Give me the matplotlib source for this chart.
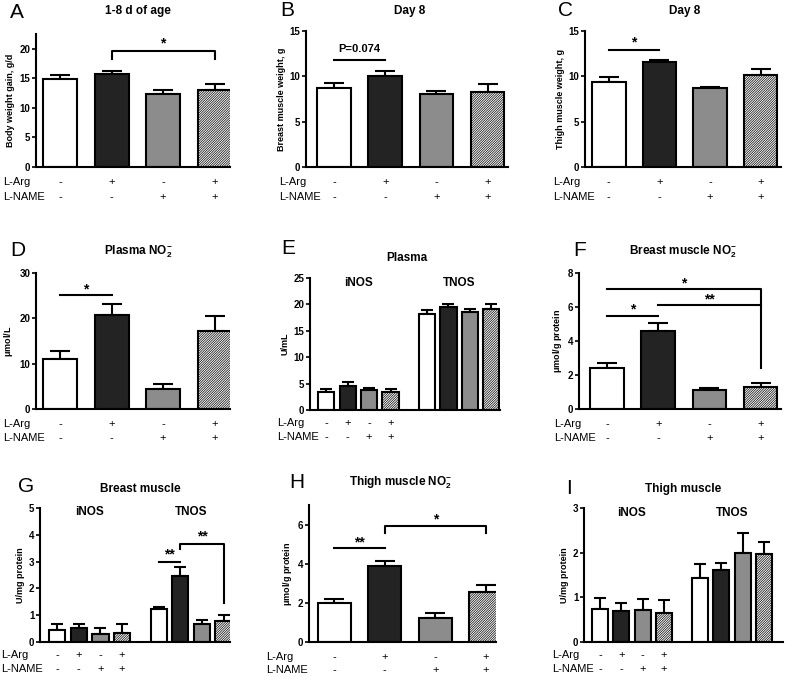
import matplotlib
matplotlib.use('Agg')
import matplotlib.pyplot as plt
import numpy as np

plt.rcParams['font.family'] = ['Liberation Sans', 'DejaVu Sans']
plt.rcParams['mathtext.fontset'] = 'custom'
plt.rcParams['mathtext.rm'] = 'Liberation Sans'
plt.rcParams['mathtext.bf'] = 'Liberation Sans:bold'
plt.rcParams['hatch.linewidth'] = 0.5

# treatment rows
L_ARG = ['-', '+', '-', '+']
L_NAME = ['-', '-', '+', '+']

# A: body weight gain 1-8 d
A_mean = [14.9, 15.7, 12.3, 13.1]
A_sem = [0.6, 0.6, 0.7, 1.0]
# B: breast muscle weight day 8
B_mean = [8.7, 10.0, 8.0, 8.3]
B_sem = [0.6, 0.6, 0.35, 0.8]
# C: thigh muscle weight day 8
C_mean = [9.4, 11.6, 8.7, 10.1]
C_sem = [0.5, 0.25, 0.15, 0.7]
# D: plasma NO2-
D_mean = [11.0, 20.8, 4.35, 17.1]
D_sem = [1.9, 2.3, 1.1, 3.5]
# E: plasma iNOS / TNOS
E_inos = [3.5, 4.5, 3.77, 3.5]
E_inos_sem = [0.46, 0.8, 0.38, 0.46]
E_tnos = [18.1, 19.5, 18.5, 19.2]
E_tnos_sem = [0.8, 0.6, 0.7, 0.8]
# F: breast muscle NO2-
F_mean = [2.44, 4.6, 1.14, 1.3]
F_sem = [0.25, 0.45, 0.12, 0.23]
# G: breast muscle iNOS / TNOS
G_inos = [0.45, 0.52, 0.31, 0.34]
G_inos_sem = [0.21, 0.15, 0.2, 0.33]
G_tnos = [1.22, 2.47, 0.66, 0.8]
G_tnos_sem = [0.1, 0.32, 0.16, 0.2]
# H: thigh muscle NO2-
H_mean = [1.97, 3.86, 1.23, 2.56]
H_sem = [0.21, 0.26, 0.26, 0.36]
# I: thigh muscle iNOS / TNOS
I_inos = [0.74, 0.70, 0.71, 0.64]
I_inos_sem = [0.24, 0.18, 0.26, 0.31]
I_tnos = [1.44, 1.62, 2.0, 1.96]
I_tnos_sem = [0.3, 0.15, 0.44, 0.28]

FILLS = ['white', '#232323', '#8c8c8c', 'white']
HATCHES = [None, None, None, '//////////////']

W, H = 789, 677
fig = plt.figure(figsize=(W / 100, H / 100), dpi=100)

TICK_FS = 7
YLAB_FS = 6.5
TITLE_FS = 8.5
TREAT_FS = 8


def make_ax(l, r, t, b):
    ax = fig.add_axes([l / W, 1 - b / H, (r - l) / W, (b - t) / H])
    for s in ['top', 'right']:
        ax.spines[s].set_visible(False)
    for s in ['left', 'bottom']:
        ax.spines[s].set_linewidth(1.5)
    ax.tick_params(axis='y', direction='out', length=3, width=1.2, pad=1,
                   labelsize=TICK_FS)
    ax.tick_params(axis='x', length=0)
    ax.set_xticks([])
    return ax


def finish_ax(ax, ylabel):
    ax.set_ylabel(ylabel, fontsize=YLAB_FS, fontweight='bold', labelpad=3)
    for lab in ax.get_yticklabels():
        lab.set_fontweight('bold')


def draw_bars(ax, xs, means, sems, width, cap):
    for x, m, s, c, h in zip(xs, means, sems, FILLS, HATCHES):
        ax.bar(x, m, width, color=c, edgecolor='black', linewidth=1.5,
               hatch=h, zorder=2)
        ax.errorbar(x, m, yerr=[[0], [s]], fmt='none', ecolor='black',
                    elinewidth=1.5, capsize=cap, capthick=1.5, zorder=1)


def treatments(ax, xs, label_x, d1, d2):
    for x, a, n in zip(xs, L_ARG, L_NAME):
        ax.annotate(a, xy=(x, 0), xycoords=('data', 'axes fraction'),
                    xytext=(0, -d1 * 0.72), textcoords='offset points',
                    ha='center', va='center', fontsize=TREAT_FS)
        ax.annotate(n, xy=(x, 0), xycoords=('data', 'axes fraction'),
                    xytext=(0, -d2 * 0.72), textcoords='offset points',
                    ha='center', va='center', fontsize=TREAT_FS)
    ax.annotate('L-Arg', xy=(label_x / W, 0), xycoords=('figure fraction', 'axes fraction'),
                xytext=(0, -d1 * 0.72), textcoords='offset points',
                ha='left', va='center', fontsize=TREAT_FS)
    ax.annotate('L-NAME', xy=(label_x / W, 0), xycoords=('figure fraction', 'axes fraction'),
                xytext=(0, -d2 * 0.72), textcoords='offset points',
                ha='left', va='center', fontsize=TREAT_FS)


def title(text, x, y, letter, lx, ly):
    fig.text(x / W, 1 - y / H, text, ha='center', va='center',
             fontsize=TITLE_FS, fontweight='bold')
    fig.text(lx / W, 1 - ly / H, letter, ha='left', va='center', fontsize=15)


def line(ax, xs, ys, text=None, tx=None, ty=None, fs=10):
    ax.plot(xs, ys, color='black', lw=1.5, clip_on=False, zorder=3)
    if text:
        ax.text(tx, ty, text, ha='center', va='center', fontsize=fs,
                fontweight='bold')


x4 = np.arange(4)
x8i = np.arange(4)
x8t = np.arange(4) + 4.7
x8 = np.concatenate([x8i, x8t])

# ---------- A ----------
ax = make_ax(36, 230, 34, 167)
draw_bars(ax, x4, A_mean, A_sem, 0.66, 7)
ax.set_ylim(0, 22.5)
ax.set_xlim(-0.47, 3.3)
ax.set_yticks([0, 5, 10, 15, 20])
finish_ax(ax, 'Body weight gain, g/d')
line(ax, [1, 1, 3, 3], [18.2, 19.6, 19.6, 18.2], '*', 2, 20.9)
treatments(ax, x4, 3, 15, 30)
title('1-8 d of age', 138, 11, 'A', 10, 12)

# ---------- B ----------
ax = make_ax(306, 508, 31, 167)
draw_bars(ax, x4, B_mean, B_sem, 0.66, 7)
ax.set_ylim(0, 15)
ax.set_xlim(-0.55, 3.4)
ax.set_yticks([0, 5, 10, 15])
finish_ax(ax, 'Breast muscle weight, g')
line(ax, [0, 1], [11.8, 11.8], 'P=0.074', 0.5, 13.0, fs=8)
treatments(ax, x4, 279, 15, 30)
title('Day 8', 410, 11, 'B', 280, 11)

# ---------- C ----------
ax = make_ax(585, 781, 31, 167)
draw_bars(ax, x4, C_mean, C_sem, 0.66, 7)
ax.set_ylim(0, 15)
ax.set_xlim(-0.47, 3.4)
ax.set_yticks([0, 5, 10, 15])
finish_ax(ax, 'Thigh muscle weight, g')
line(ax, [0, 1], [12.9, 12.9], '*', 0.5, 13.7)
treatments(ax, x4, 553, 15, 30)
title('Day 8', 685, 11, 'C', 558, 11)

# ---------- D ----------
ax = make_ax(36, 230, 273, 409)
draw_bars(ax, x4, D_mean, D_sem, 0.66, 7)
ax.set_ylim(0, 30)
ax.set_xlim(-0.47, 3.3)
ax.set_yticks([0, 10, 20, 30])
finish_ax(ax, r'$\mathregular{\mu}$mol/L')
line(ax, [0, 1], [25.1, 25.1], '*', 0.5, 26.4)
treatments(ax, x4, 3, 15, 29)
title(r'Plasma NO$_\mathbf{2}^\mathbf{-}$', 138, 252, 'D', 10, 250)

# ---------- E ----------
ax = make_ax(310, 500, 278, 410)
draw_bars(ax, x8i, E_inos, E_inos_sem, 0.75, 4)
draw_bars(ax, x8t, E_tnos, E_tnos_sem, 0.75, 4)
ax.set_ylim(0, 25)
ax.set_xlim(-0.75, 8.1)
ax.set_yticks([0, 5, 10, 15, 20, 25])
finish_ax(ax, 'U/mL')
ax.text(1.5, 24.1, 'iNOS', ha='center', va='center', fontsize=TITLE_FS, fontweight='bold')
ax.text(6.2, 24.1, 'TNOS', ha='center', va='center', fontsize=TITLE_FS, fontweight='bold')
treatments(ax, x8, 277, 13, 27)
title('Plasma', 407, 258, 'E', 281, 248)

# ---------- F ----------
ax = make_ax(579, 781, 273, 409)
draw_bars(ax, x4, F_mean, F_sem, 0.66, 7)
ax.set_ylim(0, 8)
ax.set_xlim(-0.55, 3.4)
ax.set_yticks([0, 2, 4, 6, 8])
finish_ax(ax, r'$\mathregular{\mu}$mol/g protein')
line(ax, [0, 1], [5.5, 5.5], '*', 0.5, 5.85)
line(ax, [1, 3], [6.09, 6.09], '**', 2, 6.42)
line(ax, [0, 3, 3], [7.07, 7.07, 2.4], '*', 1.5, 7.4)
treatments(ax, x4, 554, 15, 29)
title(r'Breast muscle NO$_\mathbf{2}^\mathbf{-}$', 683, 252, 'F', 573, 250)

# ---------- G ----------
ax = make_ax(40, 230, 508, 642)
draw_bars(ax, x8i, G_inos, G_inos_sem, 0.75, 4)
draw_bars(ax, x8t, G_tnos, G_tnos_sem, 0.75, 4)
ax.set_ylim(0, 5)
ax.set_xlim(-0.8, 8.0)
ax.set_yticks([0, 1, 2, 3, 4, 5])
finish_ax(ax, 'U/mg protein')
ax.text(1.5, 4.84, 'iNOS', ha='center', va='center', fontsize=TITLE_FS, fontweight='bold')
ax.text(6.2, 4.84, 'TNOS', ha='center', va='center', fontsize=TITLE_FS, fontweight='bold')
line(ax, [4.7, 5.7], [2.99, 2.99], '**', 5.2, 3.27)
line(ax, [5.7, 5.7, 7.7, 7.7], [3.47, 3.67, 3.67, 1.45], '**', 6.7, 3.95)
treatments(ax, x8, 1, 13, 27)
title('Breast muscle', 140, 489, 'G', 18, 486)

# ---------- H ----------
ax = make_ax(309, 496, 505, 642)
draw_bars(ax, x4, H_mean, H_sem, 0.66, 7)
ax.set_ylim(0, 7)
ax.set_xlim(-0.5, 3.2)
ax.set_yticks([0, 2, 4, 6])
finish_ax(ax, r'$\mathregular{\mu}$mol/g protein')
line(ax, [0, 1], [4.8, 4.8], '**', 0.5, 5.1)
line(ax, [1, 1, 3, 3], [5.57, 5.92, 5.92, 5.57], '*', 2, 6.25)
treatments(ax, x4, 266, 15, 28)
title(r'Thigh muscle NO$_\mathbf{2}^\mathbf{-}$', 401, 483, 'H', 289, 483)

# ---------- I ----------
ax = make_ax(584, 783, 508, 642)
draw_bars(ax, x8i, I_inos, I_inos_sem, 0.75, 4)
draw_bars(ax, x8t, I_tnos, I_tnos_sem, 0.75, 4)
ax.set_ylim(0, 3)
ax.set_xlim(-0.75, 8.6)
ax.set_yticks([0, 1, 2, 3])
finish_ax(ax, 'U/mg protein')
ax.text(1.5, 2.89, 'iNOS', ha='center', va='center', fontsize=TITLE_FS, fontweight='bold')
ax.text(6.2, 2.89, 'TNOS', ha='center', va='center', fontsize=TITLE_FS, fontweight='bold')
treatments(ax, x8, 552, 13, 27)
title('Thigh muscle', 683, 489, 'I', 566, 488)

fig.savefig('out.png', dpi=100, facecolor='white')
